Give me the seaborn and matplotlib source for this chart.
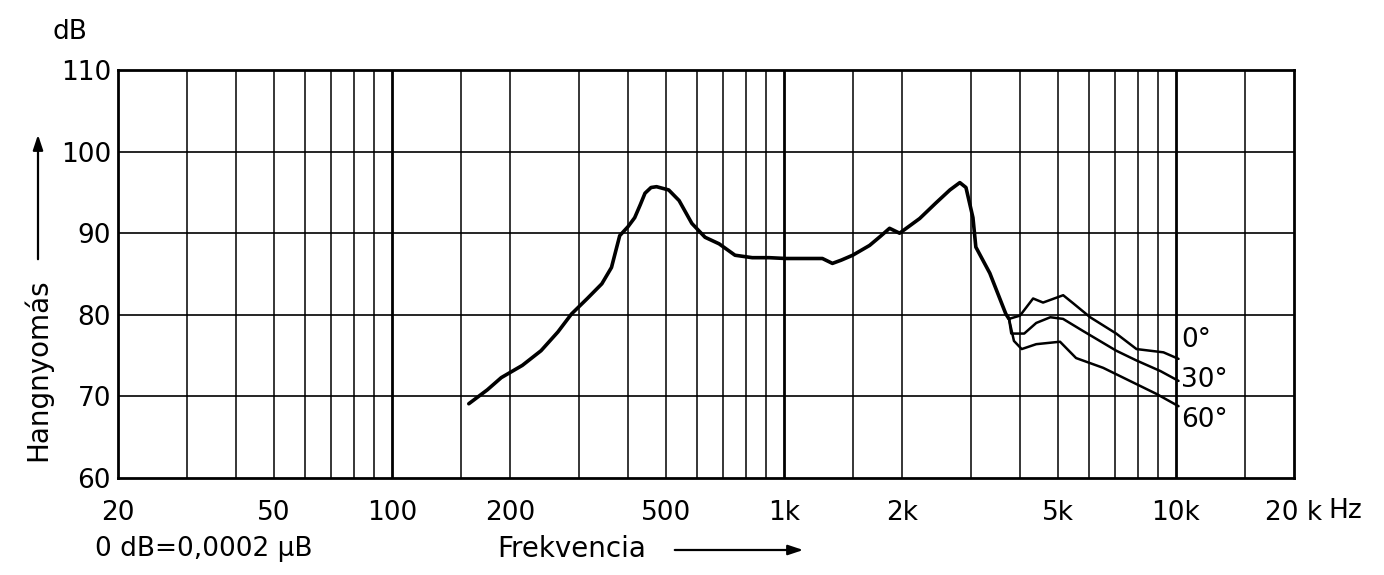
import numpy as np
import pandas as pd
import matplotlib
matplotlib.use("Agg")
import matplotlib.pyplot as plt
import seaborn as sns

# main response curve (Hz, dB) up to the point where the angle curves split
main_freq = [157, 175, 190, 215, 240, 265, 287, 315, 343, 363, 381, 400, 416, 430, 442,
             458, 473, 490, 508, 540, 582, 629, 683, 750, 830, 917, 1010, 1114, 1253, 1329,
             1400, 1497, 1653, 1760, 1859, 1972, 2219, 2440, 2650, 2809, 2912, 3034, 3086,
             3350, 3681, 3750]
main_level = [69.1, 70.8, 72.3, 73.8, 75.6, 77.9, 80.1, 82.0, 83.8, 85.8, 89.7, 90.8, 91.9, 93.5, 94.9,
              95.6, 95.7, 95.5, 95.3, 94.0, 91.2, 89.5, 88.7, 87.3, 87.0, 87.0, 86.9, 86.9, 86.9, 86.3,
              86.7, 87.3, 88.5, 89.6, 90.6, 90.0, 91.8, 93.7, 95.3, 96.2, 95.6, 91.9, 88.3,
              85.1, 80.1, 79.5]

# the three angle curves, from the split point to 10 kHz
freq_0 = [4000, 4320, 4580, 5155, 5470, 6040, 7040, 7930, 9290, 10150]
level_0 = [79.9, 82.0, 81.5, 82.4, 81.4, 79.7, 77.7, 75.8, 75.4, 74.6]
freq_30 = [3800, 4100, 4400, 4780, 5150, 5800, 7040, 7930, 9130, 10150]
level_30 = [77.7, 77.7, 79.0, 79.7, 79.5, 78.0, 75.6, 74.4, 73.1, 71.9]
freq_60 = [3860, 4040, 4400, 5060, 5560, 6520, 7930, 8920, 10150]
level_60 = [76.8, 75.8, 76.4, 76.7, 74.7, 73.5, 71.5, 70.3, 68.8]
angle_labels = ["0°", "30°", "60°"]

x_tick_vals = [20, 50, 100, 200, 500, 1000, 2000, 5000, 10000, 20000]
x_tick_text = ["20", "50", "100", "200", "500", "1k", "2k", "5k", "10k", "20 k"]
y_tick_vals = [60, 70, 80, 90, 100, 110]

grid_freqs = ([30, 40, 50, 60, 70, 80, 90]
              + [100, 150, 200, 300, 400, 500, 600, 700, 800, 900]
              + [1000, 1500, 2000, 3000, 4000, 5000, 6000, 7000, 8000, 9000]
              + [10000, 15000])

sns.set_style("white")
plt.rcParams["font.family"] = ["DejaVu Sans"]
plt.rcParams["text.color"] = "black"
plt.rcParams["xtick.color"] = "black"
plt.rcParams["ytick.color"] = "black"

fig = plt.figure(figsize=(13.84, 5.75), dpi=100)
W, H = 1384, 575
ax = fig.add_axes([118 / W, 1 - 478 / H, (1294 - 118) / W, (478 - 70) / H])

main_df = pd.DataFrame({"freq": main_freq, "level": main_level})
sns.lineplot(data=main_df, x="freq", y="level", ax=ax, color="black", lw=2.6,
             sort=False, estimator=None)

branches = []
for lab, fr, lv in zip(angle_labels, [freq_0, freq_30, freq_60], [level_0, level_30, level_60]):
    branches.append(pd.DataFrame({"freq": [main_freq[-1]] + fr,
                                  "level": [main_level[-1]] + lv,
                                  "angle": lab}))
branch_df = pd.concat(branches, ignore_index=True)
sns.lineplot(data=branch_df, x="freq", y="level", hue="angle", ax=ax,
             palette=["black"] * 3, lw=1.8, sort=False, estimator=None, legend=False)

ax.set_xscale("log")
ax.set_xlim(20, 20000)
ax.set_ylim(60, 110)

# grid
for f in grid_freqs:
    lw = 2.0 if f in (100, 1000, 10000) else 1.1
    ax.axvline(f, color="black", lw=lw, zorder=0.5)
for y in y_tick_vals[1:-1]:
    ax.axhline(y, color="black", lw=1.2, zorder=0.5)

ax.set_xticks(x_tick_vals)
ax.set_xticklabels(x_tick_text)
ax.xaxis.set_minor_locator(matplotlib.ticker.NullLocator())
ax.set_yticks(y_tick_vals)
ax.tick_params(axis="y", length=0, labelsize=19, pad=5)
ax.tick_params(axis="x", length=0, labelsize=19, pad=16)
ax.set_xlabel("")
ax.set_ylabel("")
for s in ax.spines.values():
    s.set_visible(True)
    s.set_color("black")
    s.set_linewidth(2)

# angle labels at the curve ends
label_shift = [2.3, 0.1, -1.7]
for lab, lv, dy in zip(angle_labels, [level_0[-1], level_30[-1], level_60[-1]], label_shift):
    ax.text(10300, lv + dy, lab, fontsize=19, va="center", ha="left")

def fx(px):
    return px / W

def fy(py):
    return 1 - py / H

fig.text(fx(70), fy(32), "dB", fontsize=19, ha="center", va="center")
fig.text(fx(1345), fy(511), "Hz", fontsize=19, ha="center", va="center")
fig.text(fx(38), fy(370), "Hangnyomás", fontsize=20, rotation=90, ha="center", va="center")
fig.add_artist(matplotlib.patches.FancyArrowPatch(
    (fx(38), fy(262)), (fx(38), fy(132)), transform=fig.transFigure,
    arrowstyle="-|>,head_length=9,head_width=3", color="black", lw=1.6))
fig.text(fx(95), fy(549), "0 dB=0,0002 μB", fontsize=19, ha="left", va="center")
fig.text(fx(497), fy(549), "Frekvencia", fontsize=20, ha="left", va="center")
fig.add_artist(matplotlib.patches.FancyArrowPatch(
    (fx(672), fy(550)), (fx(806), fy(550)), transform=fig.transFigure,
    arrowstyle="-|>,head_length=9,head_width=3", color="black", lw=1.6))

fig.savefig("out.png", dpi=100)
